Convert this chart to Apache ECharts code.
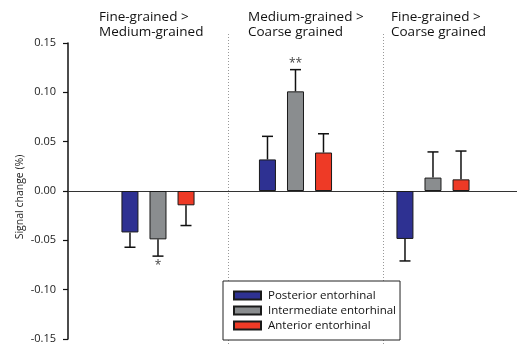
<!DOCTYPE html>
<html>
<head>
<meta charset="utf-8">
<script src="https://cdn.jsdelivr.net/npm/echarts@6/dist/echarts.min.js"></script>
<style>html,body{margin:0;padding:0;background:#fff}#c{width:517px;height:352px}</style>
</head>
<body>
<div id="c"></div>
<script>
// ---- data ----
var comparisons = ['Fine-grained >\nMedium-grained', 'Medium-grained >\nCoarse grained', 'Fine-grained >\nCoarse grained'];
var seriesNames = ['Posterior entorhinal', 'Intermediate entorhinal', 'Anterior entorhinal'];
var posteriorMean = [-0.042, 0.032, -0.0486];
var posteriorErr = [0.015, 0.0234, 0.0223];
var intermediateMean = [-0.049, 0.101, 0.0136];
var intermediateErr = [0.017, 0.022, 0.026];
var anteriorMean = [-0.0145, 0.039, 0.0118];
var anteriorErr = [0.0205, 0.019, 0.0287];
var yTicks = [-0.15, -0.10, -0.05, 0.00, 0.05, 0.10, 0.15];
var sigMarks = [[0, -0.076, '*'], [1, 0.129, '**']];
var separators = [0.509, 1.636];

var means = [posteriorMean, intermediateMean, anteriorMean];
var errs = [posteriorErr, intermediateErr, anteriorErr];
var colors = ['#2e3192', '#8a8d8f', '#ee3a26'];
var barOffsets = [-28, 0, 28];

var chart = echarts.init(document.getElementById('c'), null, {renderer: 'canvas'});
var FONT = 'Open Sans';

var series = [];
for (var s = 0; s < 3; s++) {
  series.push({
    name: seriesNames[s], type: 'bar', xAxisIndex: 0, yAxisIndex: 0,
    barWidth: 17, barGap: '65%',
    itemStyle: {color: colors[s], borderColor: '#1a1a1a', borderWidth: 1},
    data: means[s].map(function (v, i) { return [i, v]; }),
    z: 2
  });
}
for (var s2 = 0; s2 < 3; s2++) {
  (function (si) {
    series.push({
      type: 'custom', xAxisIndex: 0, yAxisIndex: 0, clip: false, z: 3,
      data: means[si].map(function (v, i) { return [i, v, errs[si][i]]; }),
      renderItem: function (params, api) {
        var x = api.value(0), m = api.value(1), e = api.value(2);
        var end = m >= 0 ? m + e : m - e;
        var p0 = api.coord([x, m]);
        var p1 = api.coord([x, end]);
        var ox = barOffsets[si];
        var st = {stroke: '#111', lineWidth: 1.5};
        return {type: 'group', children: [
          {type: 'line', shape: {x1: p0[0] + ox, y1: p0[1], x2: p1[0] + ox, y2: p1[1]}, style: st},
          {type: 'line', shape: {x1: p1[0] + ox - 5.5, y1: p1[1], x2: p1[0] + ox + 5.5, y2: p1[1]}, style: st}
        ]};
      }
    });
  })(s2);
}
series.push({
  type: 'custom', xAxisIndex: 0, yAxisIndex: 0, clip: false, z: 4,
  data: sigMarks,
  renderItem: function (params, api) {
    var p = api.coord([api.value(0), api.value(1)]);
    return {type: 'text', x: p[0], y: p[1],
      style: {text: sigMarks[params.dataIndex][2], fill: '#444', fontSize: 12,
        fontFamily: FONT, align: 'center', verticalAlign: 'middle'}};
  }
});
series.push({
  type: 'line', xAxisIndex: 1, yAxisIndex: 1, data: [], silent: true,
  markLine: {
    symbol: 'none', silent: true, label: {show: false},
    lineStyle: {color: '#999', type: [1, 2], width: 1},
    data: separators.map(function (x) { return {xAxis: x}; })
  }
});

var titles = comparisons.map(function (t, i) {
  return {text: t, left: [99, 248, 391][i], top: 10, padding: 0,
    textStyle: {fontFamily: FONT, fontSize: 13.5, fontWeight: 'normal', color: '#111', lineHeight: 15}};
});

chart.setOption({
  animation: false,
  title: titles,
  grid: [
    {left: 68, right: 0, top: 43, bottom: 13},
    {left: 68, right: 0, top: 32, bottom: 8}
  ],
  legend: {
    data: seriesNames, orient: 'vertical', left: 223, top: 281,
    itemWidth: 27, itemHeight: 8, itemGap: 0, icon: 'rect',
    borderColor: '#222', borderWidth: 1, backgroundColor: '#fff',
    padding: [7, 4, 7, 10], z: 10,
    textStyle: {fontFamily: FONT, fontSize: 11.5, color: '#111', lineHeight: 15, padding: [0, 0, 0, 2]}
  },
  xAxis: [
    {type: 'value', gridIndex: 0, min: -0.6545, max: 2.611,
      axisLine: {show: true, onZero: true, lineStyle: {color: '#333', width: 1}},
      axisTick: {show: false}, axisLabel: {show: false}, splitLine: {show: false}},
    {type: 'value', gridIndex: 1, min: -0.6545, max: 2.611, show: false}
  ],
  yAxis: [
    {type: 'value', gridIndex: 0, min: yTicks[0], max: yTicks[yTicks.length - 1], interval: 0.05,
      name: 'Signal change (%)', nameLocation: 'middle', nameGap: 42, nameRotate: 90,
      nameMoveOverlap: false,
      nameTextStyle: {fontFamily: FONT, fontSize: 10.5, color: '#222', padding: [0, 12, 0, 0]},
      axisLine: {show: true, onZero: false, lineStyle: {color: '#111', width: 1.5}},
      axisTick: {show: true, inside: false, length: 5, lineStyle: {color: '#111', width: 1.2}},
      axisLabel: {margin: 12, fontFamily: FONT, fontSize: 11, color: '#222',
        formatter: function (v) { return (Math.abs(v) < 1e-9 ? 0 : v).toFixed(2); }},
      splitLine: {show: false}},
    {type: 'value', gridIndex: 1, min: 0, max: 1, show: false}
  ],
  series: series
});
</script>
</body>
</html>
